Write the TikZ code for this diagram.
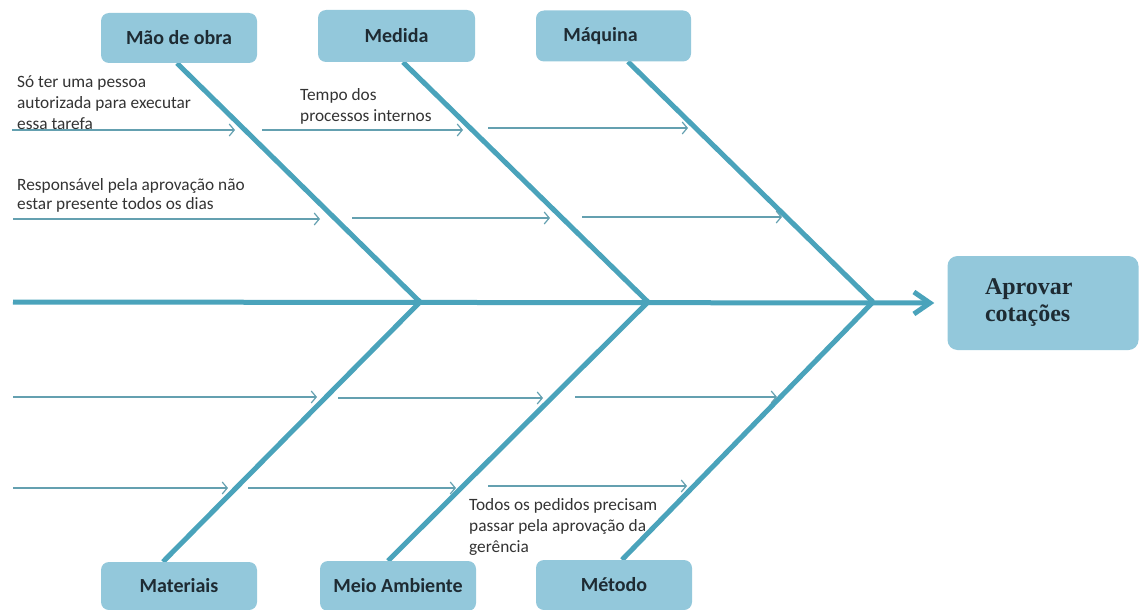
\documentclass[tikz,border=0pt]{standalone}
\usepackage{fontspec}
\setmainfont{Carlito}
\newfontfamily\titlefont{Liberation Serif}
\usetikzlibrary{arrows.meta,calc}
\definecolor{bone}{HTML}{4AA3BB}
\definecolor{boxfill}{HTML}{93C8DB}
\definecolor{subline}{HTML}{64A0B0}
\definecolor{txt}{HTML}{333333}
\definecolor{boxtxt}{HTML}{1E2B33}
\pgfdeclarelayer{bg}
\pgfsetlayers{bg,main}
\begin{document}
\begin{tikzpicture}[x=1pt,y=-1pt,
  catbox/.style={fill=boxfill, rounded corners=8pt, minimum width=156pt, minimum height=50pt, inner sep=0pt, font=\bfseries\fontsize{20}{24}\selectfont, text=boxtxt},
  effect/.style={fill=boxfill, rounded corners=10pt, minimum width=191pt, minimum height=94pt, inner sep=0pt, text width=116pt, align=left, font=\titlefont\bfseries\fontsize{24}{27}\selectfont, text=boxtxt},
  bonel/.style={draw=bone, line width=5pt},
  spine/.style={draw=bone, line width=5pt, -{Straight Barb[length=16pt,width=22pt]}},
  cause/.style={draw=subline, line width=1.2pt, -{Straight Barb[length=5pt,width=12pt]}},
  note/.style={anchor=north west, inner sep=0pt, align=left, text=txt, font=\fontsize{17.3}{21}\selectfont}
]
\useasboundingbox (0,0) rectangle (1140,610);

% category boxes
\node[catbox] (mao) at (179,38) {Mão de obra};
\node[catbox, minimum width=157pt, minimum height=52pt] (medida) at (396.5,36) {\raisebox{-4pt}{Medida}};
\node[catbox, minimum width=155pt, minimum height=51pt] (maquina) at (613.5,36) {\hspace*{-26pt}Máquina};
\node[catbox, minimum height=48pt] (materiais) at (179,586) {\raisebox{-3pt}{Materiais}};
\node[catbox, minimum height=50pt] (meio) at (398,586) {\raisebox{-3pt}{Meio Ambiente}};
\node[catbox, minimum height=50pt] (metodo) at (614,585) {Método};
\node[effect] (efeito) at (1043,303) {Aprovar\\cotações};

% junctions
\coordinate (tail) at (13,302);
\coordinate (j1) at (420,302);
\coordinate (j2) at (648,302);
\coordinate (j3) at (873,302);

\begin{pgfonlayer}{bg}
\draw[spine, shorten >=13pt] (tail) -- (efeito.west);
\draw[bonel] ($(mao.south)+(-2,0)$) -- (j1);
\draw[bonel] ($(medida.south)+(6.5,0)$) -- (j2);
\draw[bonel] ($(maquina.south)+(14.5,0)$) -- (j3);
\draw[bonel] ($(materiais.north)+(-16,0)$) -- (j1);
\draw[bonel] ($(meio.north)+(-10,0)$) -- (j2);
\draw[bonel] ($(metodo.north)+(8,0)$) -- (j3);
\end{pgfonlayer}

% cause arrows
\coordinate (a1s) at (12,130);  \coordinate (a1e) at (235,130);
\coordinate (a2s) at (262,130); \coordinate (a2e) at (463,130);
\coordinate (a3s) at (488,128); \coordinate (a3e) at (688,128);
\coordinate (b1s) at (13,219);  \coordinate (b1e) at (320,219);
\coordinate (b2s) at (352,218); \coordinate (b2e) at (550,218);
\coordinate (b3s) at (582,217); \coordinate (b3e) at (782,217);
\coordinate (c1s) at (13,397);  \coordinate (c1e) at (317,397);
\coordinate (c2s) at (338,398); \coordinate (c2e) at (543,398);
\coordinate (c3s) at (575,397); \coordinate (c3e) at (777,397);
\coordinate (d1s) at (13,488);  \coordinate (d1e) at (228,488);
\coordinate (d2s) at (248,488); \coordinate (d2e) at (456,488);
\coordinate (d3s) at (488,486); \coordinate (d3e) at (687,486);
\foreach \r in {a,b,c,d}{
  \foreach \k in {1,2,3}{
    \draw[cause] (\r\k s) -- (\r\k e);
  }
}

% notes
\node[note] (n1) at (17,75) {Só ter uma pessoa\\autorizada para executar\\essa tarefa};
\node[note] (n2) at (300,88) {Tempo dos\\processos internos};
\node[note, font=\fontsize{17.3}{19}\selectfont] (n3) at (17,178) {Responsável pela aprovação não\\estar presente todos os dias};
\node[note] (n4) at (469,498) {Todos os pedidos precisam\\passar pela aprovação da\\gerência};
\end{tikzpicture}
\end{document}
